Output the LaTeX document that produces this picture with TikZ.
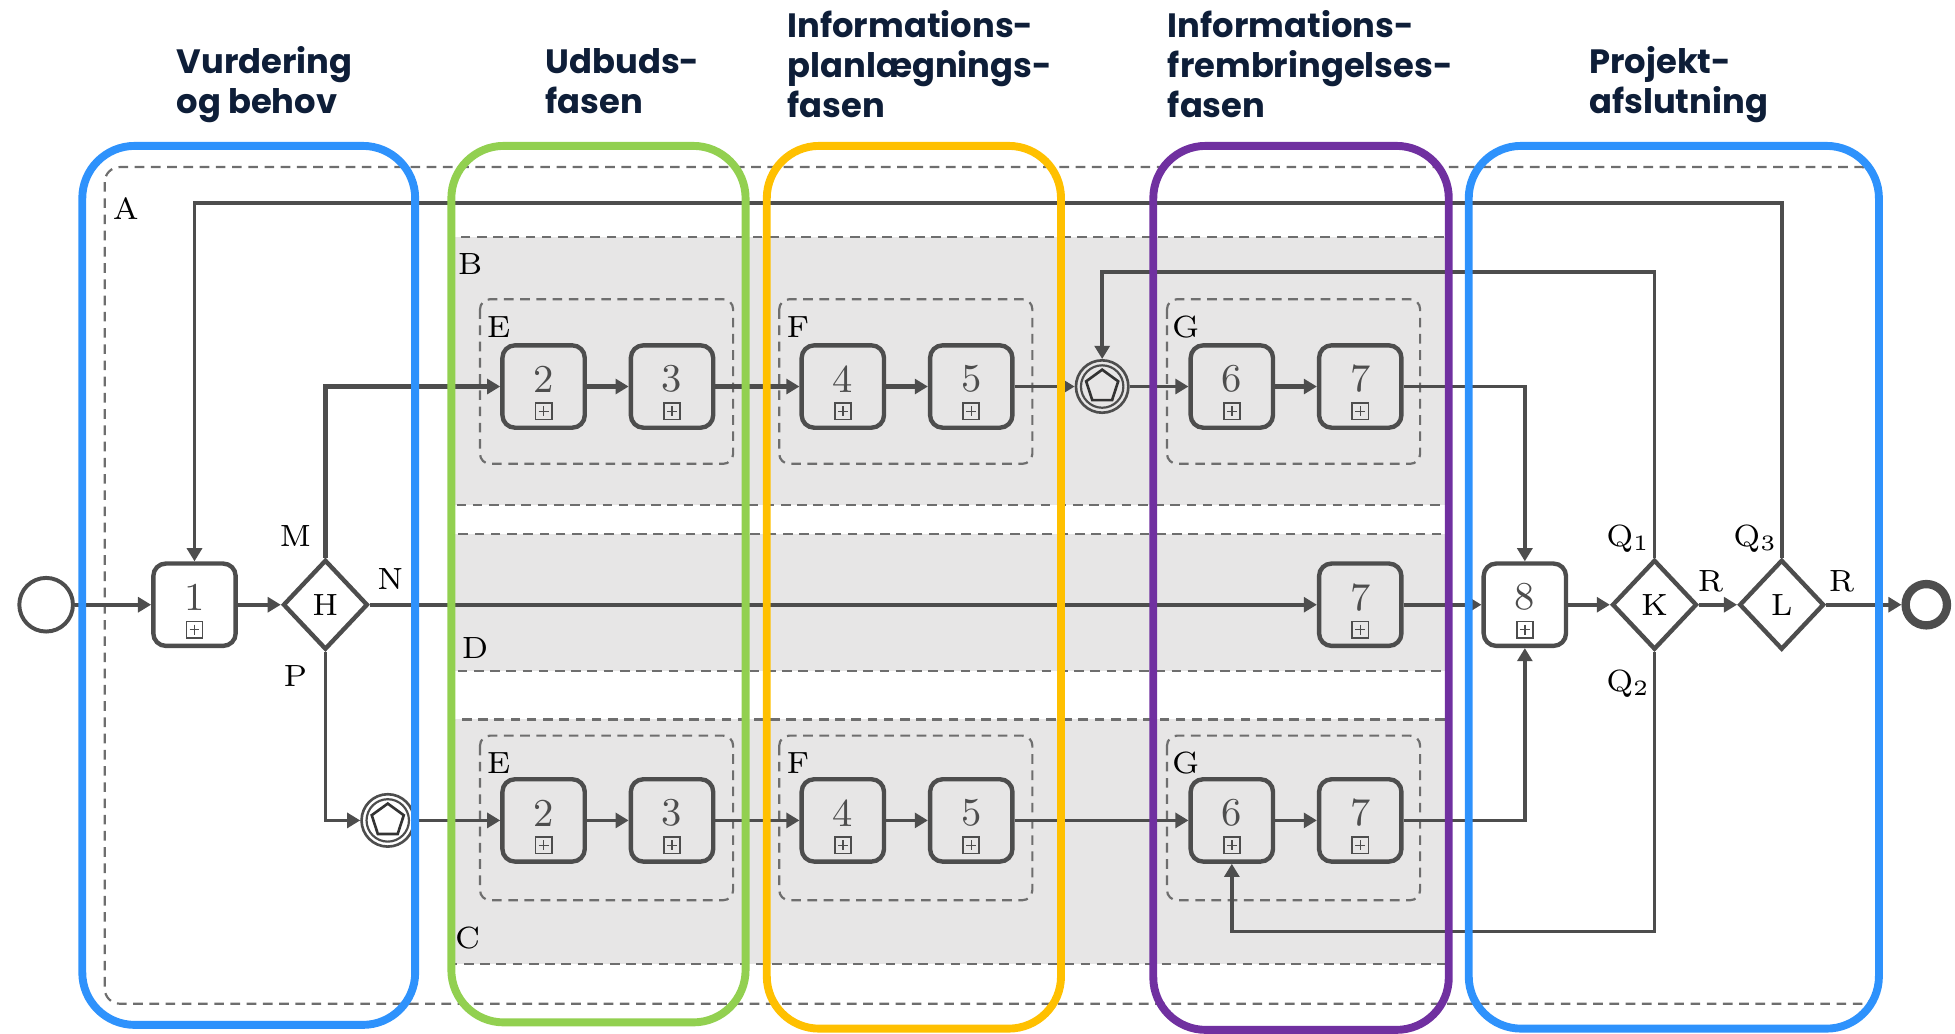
\documentclass[tikz,border=0pt]{standalone}
\usepackage{fontspec}
\newfontfamily\titlefont{Poppins}
\usetikzlibrary{arrows.meta,shapes.geometric,positioning}
\definecolor{ink}{RGB}{77,77,77}
\definecolor{lanegray}{RGB}{231,230,230}
\definecolor{dashgray}{RGB}{110,110,110}
\definecolor{navy}{RGB}{14,30,56}
\definecolor{phblue}{RGB}{46,146,252}
\definecolor{phgreen}{RGB}{146,208,80}
\definecolor{phyellow}{RGB}{255,192,0}
\definecolor{phpurple}{RGB}{112,48,160}
\tikzset{
  task/.style={draw=ink,line width=1pt,rounded corners=1mm,minimum width=0.66cm,minimum height=0.66cm,inner sep=0pt},
  gate/.style={draw=ink,line width=1pt,diamond,minimum width=0.68cm,minimum height=0.72cm,inner sep=0pt},
  plusbox/.style={draw=ink,line width=0.4pt,minimum size=0.13cm,inner sep=0pt,
    path picture={\draw[ink,line width=0.35pt] ([yshift=-0.025cm]path picture bounding box.north) -- ([yshift=0.025cm]path picture bounding box.south)
      ([xshift=0.025cm]path picture bounding box.west) -- ([xshift=-0.025cm]path picture bounding box.east);}},
  numlbl/.style={text=ink,font=\fontsize{9}{10}\selectfont,inner sep=0pt},
  multiev/.style={draw=ink,circle,line width=0.6pt,minimum size=0.42cm,inner sep=0pt},
  flow/.style={draw=ink,line width=0.85pt,-{Triangle[length=3pt,width=3.4pt]}},
  heavyflow/.style={flow,line width=1.2pt},
  lane/.style={fill=lanegray,draw=dashgray,line width=0.5pt,dash pattern=on 2.2pt off 1.5pt},
  subbox/.style={draw=dashgray,line width=0.5pt,dash pattern=on 2.2pt off 1.5pt,rounded corners=0.8mm},
  pool/.style={draw=dashgray,line width=0.5pt,dash pattern=on 2.2pt off 1.5pt,rounded corners=1.2mm},
  phase/.style={draw=#1,line width=1.8pt,rounded corners=4.2mm},
  ttl/.style={anchor=base west,align=left,inner sep=0pt,text=navy,font=\titlefont\bfseries\fontsize{7.7}{9.1}\selectfont}
}
\begin{document}
\begin{tikzpicture}[x=0.01cm,y=-0.01cm,font=\fontsize{7}{8}\selectfont]
\useasboundingbox (0,0) rectangle (1568,829);
\node[ttl] at (141,91) {Vurdering\\og behov};
\node[ttl] at (437,91) {Udbuds-\\fasen};
\node[ttl] at (631,94) {Informations-\\planlægnings-\\fasen};
\node[ttl] at (936,94) {Informations-\\frembringelses-\\fasen};
\node[ttl] at (1274,91) {Projekt-\\afslutning};

\draw[pool] (84,134) rectangle (1505,805);
\node at (101,167) {A};
\filldraw[lane] (360,190) rectangle (1162,405);
\filldraw[lane] (360,428) rectangle (1162,538);
\filldraw[lane] (360,577) rectangle (1162,773);
\node at (377,212) {B};
\node at (381,520) {D};
\node at (375,752) {C};
\foreach \x/\lab in {385/E,625/F,936/G} {
  \draw[subbox] (\x,240) rectangle ++(203,132);
  \draw[subbox] (\x,590) rectangle ++(203,132);
  \node at (\x+15,262) {\lab};
  \node at (\x+15,612) {\lab};
}

\foreach \nm/\x/\y/\num in {t1/156/485/1, b2/436/310/2, b3/539/310/3, b4/676/310/4, b5/779/310/5, b6/988/310/6, b7/1091/310/7, d7/1091/485/7, t8/1223/485/8, c2/436/658/2, c3/539/658/3, c4/676/658/4, c5/779/658/5, c6/988/658/6, c7/1091/658/7} {
  \node[task] (\nm) at (\x,\y) {};
  \node[numlbl] at ([yshift=0.06cm]\nm.center) {\num};
  \node[plusbox] at ([yshift=-0.2cm]\nm.center) {};
}
\node[gate] (H) at (261,485) {H};
\node[gate] (K) at (1327,485) {K};
\node[gate] (L) at (1429,485) {L};
\node[draw=ink,circle,line width=0.9pt,minimum size=0.43cm] (start) at (37,485) {};
\node[draw=ink,circle,line width=1.9pt,minimum size=0.33cm] (end) at (1545,485) {};
\node[multiev] (evB) at (884,310) {};
\node[multiev] (evC) at (311,658) {};
\foreach \e in {evB,evC} {
  \draw[ink,line width=0.5pt] (\e.center) circle (0.17cm);
  \node[draw=black!80,regular polygon,regular polygon sides=5,minimum size=0.27cm,inner sep=0pt,line width=0.6pt] at (\e.center) {};
}

\node at (237,430) {M};
\node at (313,464) {N};
\node at (237,542) {P};
\node at (1306,432) {Q$_1$};
\node at (1306,548) {Q$_2$};
\node at (1408,432) {Q$_3$};
\node at (1372,466) {R};
\node at (1477,466) {R};

\coordinate (qa) at (0,163);
\coordinate (qb) at (0,218);
\coordinate (qc) at (0,747);
\draw[flow] (start) -- (t1);
\draw[flow] (t1) -- (H);
\draw[heavyflow] (H.north) |- (b2.west);
\draw[flow] (H.east) -- (d7.west);
\draw[flow] (H.south) |- (evC.west);
\draw[heavyflow] (b2) -- (b3);
\draw[heavyflow] (b3) -- (b4);
\draw[heavyflow] (b4) -- (b5);
\draw[flow] (b5) -- (evB);
\draw[flow] (evB) -- (b6);
\draw[heavyflow] (b6) -- (b7);
\draw[flow] (evC) -- (c2);
\foreach \a/\b in {c2/c3,c3/c4,c4/c5,c5/c6,c6/c7} \draw[flow] (\a) -- (\b);
\draw[flow] (b7.east) -| (t8.north);
\draw[flow] (d7) -- (t8);
\draw[flow] (c7.east) -| (t8.south);
\draw[flow] (t8) -- (K);
\draw[flow] (K) -- (L);
\draw[flow] (L) -- (end);
\draw[flow] (K.north) -- (K.north |- qb) -| (evB.north);
\draw[flow] (K.south) -- (K.south |- qc) -| (c6.south);
\draw[flow] (L.north) -- (L.north |- qa) -| (t1.north);

\draw[phase=phblue] (66,117) rectangle (333,822);
\draw[phase=phgreen] (362,117) rectangle (598,820);
\draw[phase=phyellow] (615,117) rectangle (851,825);
\draw[phase=phpurple] (925,117) rectangle (1162,826);
\draw[phase=phblue] (1178,117) rectangle (1507,825);
\end{tikzpicture}
\end{document}
